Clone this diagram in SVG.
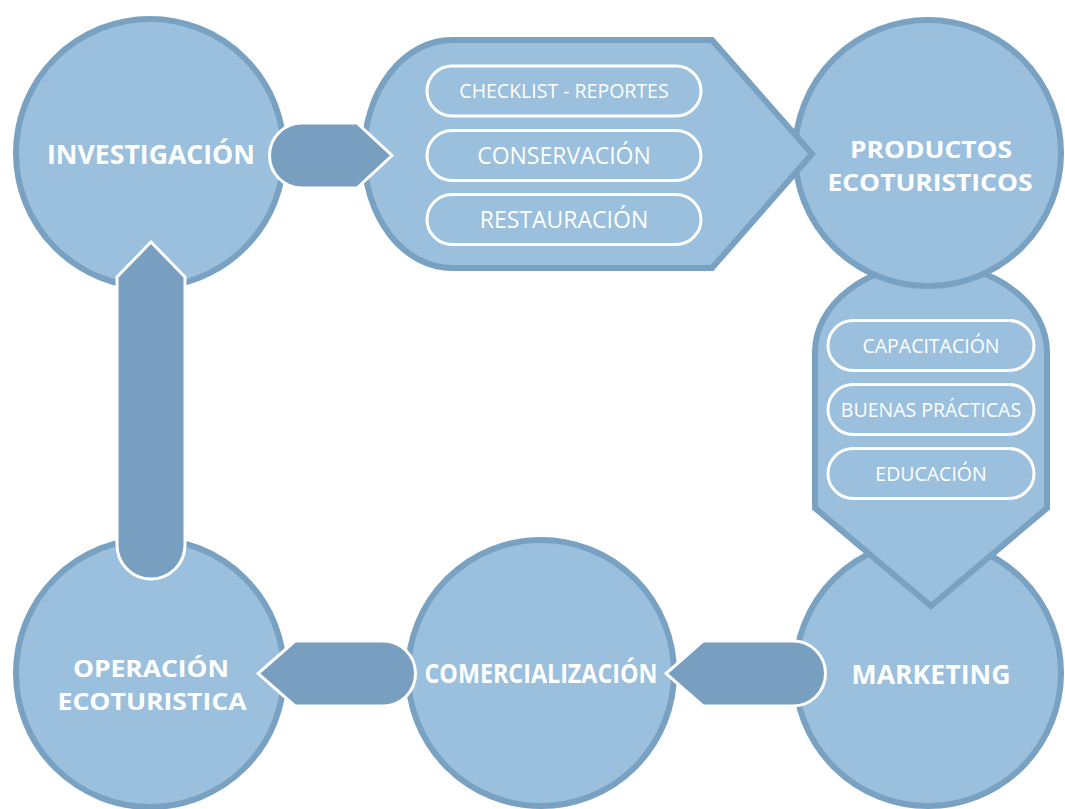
<svg xmlns="http://www.w3.org/2000/svg" width="1065" height="809" viewBox="0 0 1065 809">
<style>
.circ{fill:#9ac0dd;stroke:#79a1c2;stroke-width:6}
.box{fill:#9ac0dd;stroke:#79a1c2;stroke-width:6;stroke-linejoin:miter}
.pill{fill:none;stroke:#ffffff;stroke-width:3}
.conn{fill:#789fc0;stroke:#ffffff;stroke-width:3;stroke-linejoin:miter}
.lbl{font-family:"Open Sans","Noto Sans","DejaVu Sans",sans-serif;font-weight:700;font-size:27px;fill:#ffffff;text-anchor:middle}
.lbl2{font-family:"Open Sans","Noto Sans","DejaVu Sans",sans-serif;font-weight:700;font-size:24px;fill:#ffffff;text-anchor:middle}
.item{font-family:"Open Sans","Noto Sans","DejaVu Sans",sans-serif;font-weight:400;font-size:19.5px;fill:#ffffff;text-anchor:middle}
.itemL{font-family:"Open Sans","Noto Sans","DejaVu Sans",sans-serif;font-weight:400;font-size:23px;fill:#ffffff;text-anchor:middle}
</style>
<rect width="1065" height="809" fill="#ffffff"/>
<g id="investigacion">
<circle class="circ" cx="150" cy="153" r="134"/>
<text class="lbl" x="151" y="164" textLength="208" lengthAdjust="spacingAndGlyphs">INVESTIGACIÓN</text>
</g>
<g id="operacion">
<circle class="circ" cx="150" cy="673" r="134"/>
<text class="lbl2" x="151" y="677" textLength="156" lengthAdjust="spacingAndGlyphs">OPERACIÓN</text>
<text class="lbl2" x="152" y="710" textLength="189" lengthAdjust="spacingAndGlyphs">ECOTURISTICA</text>
</g>
<g id="comercializacion">
<circle class="circ" cx="541" cy="673" r="133"/>
<text class="lbl" x="541" y="683" textLength="233" lengthAdjust="spacingAndGlyphs">COMERCIALIZACIÓN</text>
</g>
<g id="marketing">
<circle class="circ" cx="928" cy="673" r="133"/>
<text class="lbl" x="931" y="684" textLength="159" lengthAdjust="spacingAndGlyphs">MARKETING</text>
</g>
<g id="box-capacitacion">
<path class="box" d="M815,352 A116,88 0 0 1 1047,352 L1047,508 L931,606 L815,508 Z"/>
<rect class="pill" x="828" y="320.5" width="206" height="50" rx="25"/>
<rect class="pill" x="828" y="384.5" width="206" height="50" rx="25"/>
<rect class="pill" x="828" y="448.5" width="206" height="50" rx="25"/>
<text class="item" x="931" y="352.5">CAPACITACIÓN</text>
<text class="item" x="931" y="416.5">BUENAS PRÁCTICAS</text>
<text class="item" x="931" y="480.5">EDUCACIÓN</text>
</g>
<g id="productos">
<circle class="circ" cx="928" cy="153" r="133"/>
<text class="lbl2" x="931" y="158" textLength="162" lengthAdjust="spacingAndGlyphs">PRODUCTOS</text>
<text class="lbl2" x="930" y="191" textLength="205" lengthAdjust="spacingAndGlyphs">ECOTURISTICOS</text>
</g>
<g id="box-checklist">
<path class="box" d="M452,40 L712,40 L812,154 L712,268 L452,268 A88,114 0 0 1 452,40 Z"/>
<rect class="pill" x="427" y="66" width="274" height="50" rx="25"/>
<rect class="pill" x="427" y="130.5" width="274" height="50" rx="25"/>
<rect class="pill" x="427" y="194.5" width="274" height="50" rx="25"/>
<text class="item" x="564" y="98">CHECKLIST - REPORTES</text>
<text class="itemL" x="564" y="163.7">CONSERVACIÓN</text>
<text class="itemL" x="564" y="227.7">RESTAURACIÓN</text>
</g>
<g id="connectors">
<path class="conn" d="M302,123 L357,123 L392,155.5 L357,188 L302,188 A32.5,32.5 0 0 1 302,123 Z"/>
<path class="conn" d="M703,641 L793,641 A32.5,32.5 0 0 1 793,706 L703,706 L666,673.5 Z"/>
<path class="conn" d="M295,641 L383,641 A32.5,32.5 0 0 1 383,706 L295,706 L258,673.5 Z"/>
<path class="conn" d="M151,242 L185,277 L185,545 A34,34 0 0 1 117,545 L117,277 Z"/>
</g>
</svg>
